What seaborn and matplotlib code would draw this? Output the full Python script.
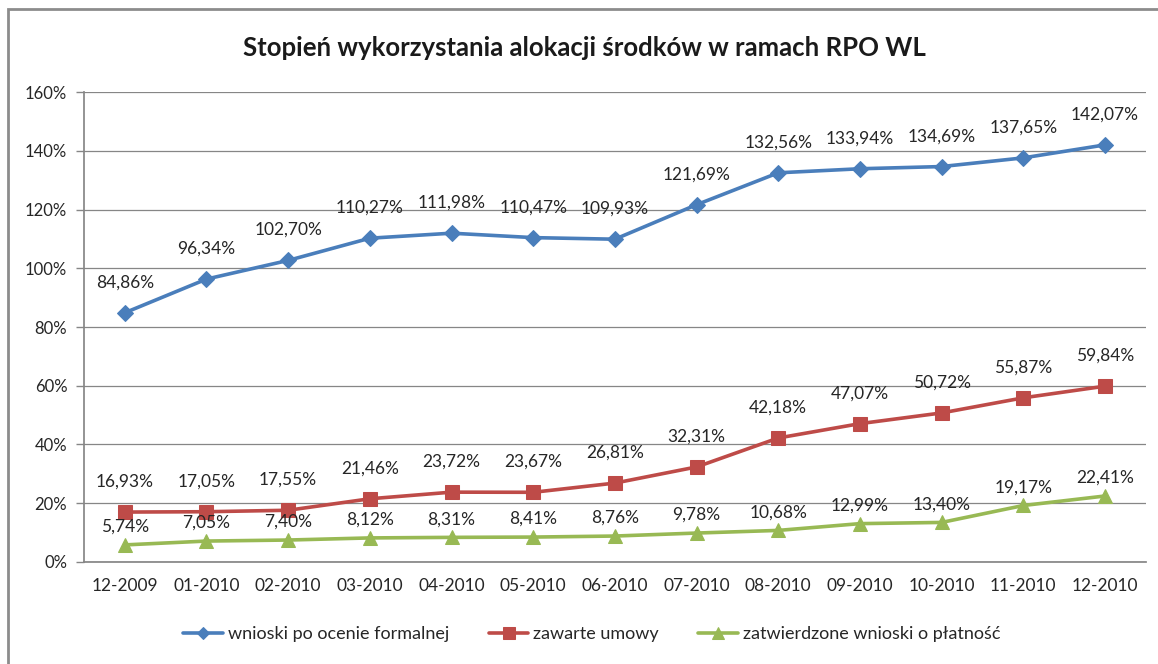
import matplotlib
matplotlib.use("Agg")
import matplotlib.pyplot as plt
import matplotlib.patches as mpatches
import seaborn as sns
import pandas as pd
import numpy as np

months = ["12-2009", "01-2010", "02-2010", "03-2010", "04-2010", "05-2010", "06-2010",
          "07-2010", "08-2010", "09-2010", "10-2010", "11-2010", "12-2010"]
wnioski = [84.86, 96.34, 102.70, 110.27, 111.98, 110.47, 109.93, 121.69, 132.56, 133.94, 134.69, 137.65, 142.07]
umowy = [16.93, 17.05, 17.55, 21.46, 23.72, 23.67, 26.81, 32.31, 42.18, 47.07, 50.72, 55.87, 59.84]
platnosci = [5.74, 7.05, 7.40, 8.12, 8.31, 8.41, 8.76, 9.78, 10.68, 12.99, 13.40, 19.17, 22.41]
series_names = ["wnioski po ocenie formalnej", "zawarte umowy", "zatwierdzone wnioski o płatność"]
title = "Stopień wykorzystania alokacji środków w ramach RPO WL"

sns.set_theme(style="white")
plt.rcParams['font.family'] = ['Lato', 'DejaVu Sans']

colors = ["#4A7EBB", "#BE4B48", "#98B954"]
markers = ["D", "s", "^"]
msizes = [8, 10, 10]
label_offsets = [7.6, 7.6, 3.4]

fig = plt.figure(figsize=(11.58, 6.64), dpi=100)
fig.patches.append(mpatches.Rectangle((0.007, -0.01), 1.2, 0.996, transform=fig.transFigure,
                                      fill=False, edgecolor="#8c8c8c", linewidth=2.0))
ax = fig.add_axes([0.0725, 0.154, 0.917, 0.707])

x = np.arange(len(months))
rows = []
for name, vals in zip(series_names, [wnioski, umowy, platnosci]):
    for i, v in enumerate(vals):
        rows.append({"x": i, "y": v, "series": name})
df = pd.DataFrame(rows)

for name, c, m, ms, off, vals in zip(series_names, colors, markers, msizes, label_offsets,
                                     [wnioski, umowy, platnosci]):
    sub = df[df["series"] == name]
    sns.lineplot(data=sub, x="x", y="y", ax=ax, color=c, marker=m, markersize=ms,
                 markeredgecolor=c, linewidth=2.6, label=name, legend=False)
    for i, v in enumerate(vals):
        ax.text(i, v + off, f"{v:.2f}%".replace(".", ","), ha="center", va="bottom",
                fontsize=12.5, color="#262626")

ax.set_xlim(-0.5, len(months) - 0.5)
ax.set_ylim(0, 160)
ax.set_yticks(np.arange(0, 161, 20))
ax.set_yticklabels([f"{t}%" for t in range(0, 161, 20)], fontsize=12, color="#262626")
ax.set_xticks(x)
ax.set_xticklabels(months, fontsize=12.5, color="#262626")
ax.set_xticks(np.arange(-0.5, len(months), 1), minor=True)
ax.tick_params(axis="x", which="major", length=0, pad=12)
ax.tick_params(axis="x", which="minor", length=6, color="#868686", width=1)
ax.tick_params(axis="y", length=6, color="#868686", width=1, pad=6, left=True)
ax.set_xlabel("")
ax.set_ylabel("")
ax.grid(axis="y", color="#868686", linewidth=0.9)
ax.set_axisbelow(True)
for s in ["top", "right"]:
    ax.spines[s].set_visible(False)
ax.spines["left"].set_color("#868686")
ax.spines["bottom"].set_color("#868686")

fig.text(0.505, 0.928, title, ha="center", va="center", fontsize=18.5, fontweight="bold", color="#1a1a1a")

handles, labels = ax.get_legend_handles_labels()
fig.legend(handles, labels, loc="center", bbox_to_anchor=(0.511, 0.045), ncol=3, frameon=False,
           fontsize=13, handlelength=2.2, columnspacing=2.2, handletextpad=0.25, markerscale=0.8)

fig.savefig("out.png", dpi=100)
